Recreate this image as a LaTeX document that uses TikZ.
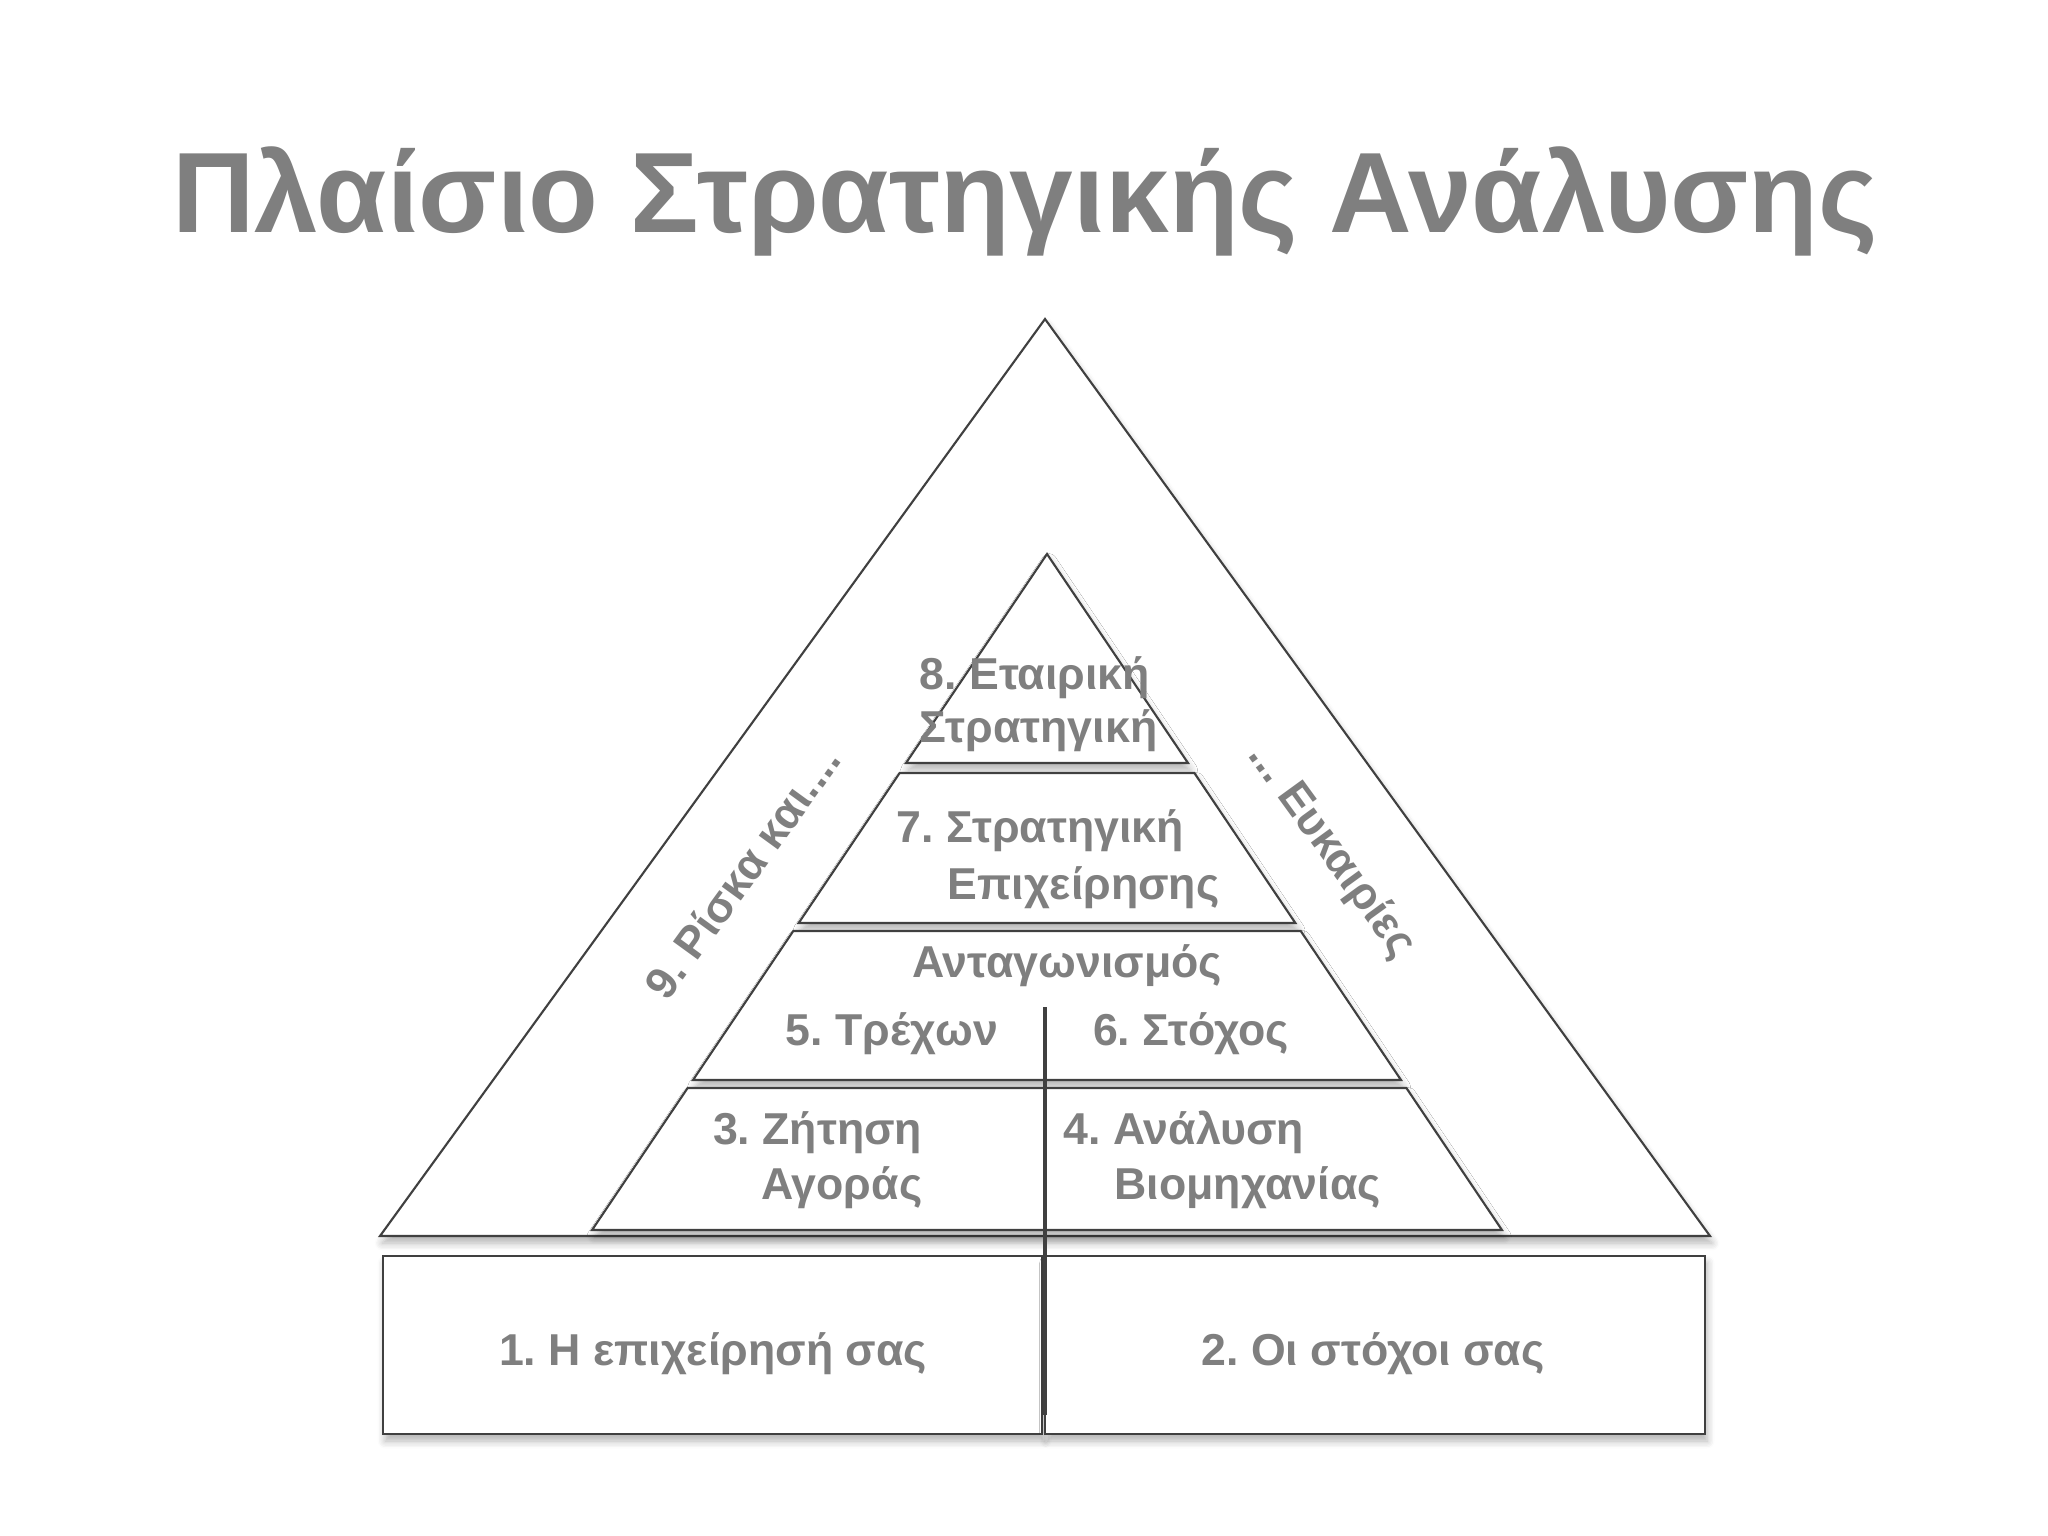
\documentclass[tikz,border=0pt]{standalone}
\usepackage{fontspec}
\setmainfont{Liberation Sans}
\usetikzlibrary{shadows.blur}
\definecolor{txtgray}{HTML}{7F7F7F}
\definecolor{linegray}{HTML}{404040}
\frenchspacing

\begin{document}
\begin{tikzpicture}[x=0.01cm, y=-0.01cm,
    every node/.style={inner sep=0pt, text=txtgray, font=\bfseries\fontsize{12.7}{15.5}\selectfont},
    layer/.style={draw=linegray, line width=0.6pt, fill=white,
      blur shadow={shadow xshift=0.6pt, shadow yshift=-2pt, shadow blur steps=6, shadow opacity=30}},
    divider/.style={draw=linegray, line width=1.4pt}]
  \useasboundingbox (0,0) rectangle (2048,1536);
  \node (title) [anchor=base, font=\bfseries\fontsize{32.5}{39}\selectfont] at (1025,232) {Πλαίσιο Στρατηγικής Ανάλυσης};
  \draw[layer] (1045,319) -- (380,1236) -- (1710,1236) -- cycle;
  \draw[layer] (1047,554) -- (906,763) -- (1188,763) -- cycle;
  \foreach \ya/\yb in {773/923, 931/1080, 1088/1230}
    \draw[layer] ({1047-0.673*(\ya-554)},\ya) -- ({1047+0.673*(\ya-554)},\ya)
      -- ({1047+0.673*(\yb-554)},\yb) -- ({1047-0.673*(\yb-554)},\yb) -- cycle;
  \draw[layer] (383,1256) rectangle (1042,1434);
  \draw[layer] (1045,1256) rectangle (1705,1434);
  \coordinate (divtop) at (1045,1007);
  \coordinate (divbot) at (1045,1415);
  \draw[divider] (divtop) -- (divbot);
  \node (corp) [anchor=base west, align=left, font=\bfseries\fontsize{12.7}{14.8}\selectfont] at (919,742) {8. Εταιρική\\Στρατηγική};
  \node (biz) [anchor=base west, align=left, font=\bfseries\fontsize{12.7}{16.2}\selectfont] at (896,899) {7. Στρατηγική\\\hspace*{14.5pt}Επιχείρησης};
  \node (comp) [anchor=base] at (1067,977) {Ανταγωνισμός};
  \node (curr) [anchor=base] at (892,1045) {5. Τρέχων};
  \node (goal) [anchor=base] at (1191,1045) {6. Στόχος};
  \node (demand) [anchor=base east, align=right] at (923,1199) {3. Ζήτηση\\Αγοράς};
  \node (industry) [anchor=base west, align=left] at (1063,1199) {4. Ανάλυση\\\hspace*{14.5pt}Βιομηχανίας};
  \node (firm) [anchor=base] at (713,1365) {1. Η επιχείρησή σας};
  \node (aims) [anchor=base] at (1373,1365) {2. Οι στόχοι σας};
  \node (risk) [rotate=54] at (742,872) {9. Ρίσκα και....};
  \node (chance) [rotate=-54] at (1331,851) {... Ευκαιρίες};
\end{tikzpicture}
\end{document}
